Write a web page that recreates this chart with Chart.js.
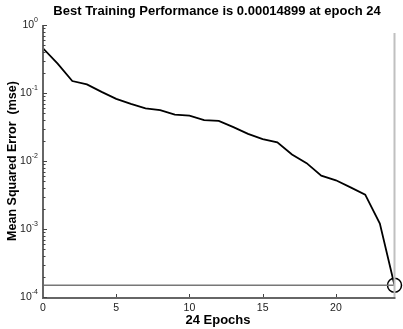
<!DOCTYPE html>
<html>
<head>
<meta charset="utf-8">
<script src="https://cdn.jsdelivr.net/npm/chart.js@4"></script>
<style>
  html, body { margin: 0; padding: 0; background: #fff; }
  #wrap { width: 403px; height: 329px; }
</style>
</head>
<body>
<div id="wrap"><canvas id="perfChart" width="403" height="329"></canvas></div>
<script>
// values
const epochs = [0, 1, 2, 3, 4, 5, 6, 7, 8, 9, 10, 11, 12, 13, 14, 15, 16, 17, 18, 19, 20, 21, 22, 23, 24];
const trainMse = [0.454, 0.27, 0.15, 0.134, 0.104, 0.082, 0.069, 0.0596, 0.056, 0.048, 0.0465, 0.040, 0.039,
    0.0315, 0.025, 0.021, 0.0188, 0.0125, 0.0093, 0.0061, 0.0052, 0.0041, 0.0032, 0.0012, 0.00014899];
const bestEpoch = 24;
const bestMse = 0.00014899;
const xTicks = [0, 5, 10, 15, 20];
const yTicks = [1, 0.1, 0.01, 0.001, 0.0001];
const yExp = ['0', '-1', '-2', '-3', '-4'];

const FONT = '"Liberation Sans", Arial, sans-serif';

const axesPlugin = {
    id: 'matlabAxes',
    afterDraw(chart) {
        const ctx = chart.ctx;
        const xs = chart.scales.x;
        const ys = chart.scales.y;
        const area = chart.chartArea;
        ctx.save();

        // right light border
        ctx.strokeStyle = '#c0c0c0';
        ctx.lineWidth = 2;
        ctx.beginPath();
        ctx.moveTo(area.right, area.top + 8);
        ctx.lineTo(area.right, area.bottom);
        ctx.stroke();

        // left and bottom axes
        ctx.strokeStyle = '#666';
        ctx.lineWidth = 2;
        ctx.beginPath();
        ctx.moveTo(area.left, area.top);
        ctx.lineTo(area.left, area.bottom + 1);
        ctx.lineTo(area.right + 1, area.bottom + 1);
        ctx.stroke();

        // y ticks (major + log minor)
        ctx.lineWidth = 1;
        ctx.strokeStyle = '#444';
        ctx.beginPath();
        for (let d = -4; d <= 0; d++) {
            const yp = Math.round(ys.getPixelForValue(Math.pow(10, d))) + 0.5;
            ctx.moveTo(area.left, yp);
            ctx.lineTo(area.left + 4, yp);
            if (d < 0) {
                for (let m = 2; m <= 9; m++) {
                    const ym = Math.round(ys.getPixelForValue(m * Math.pow(10, d))) + 0.5;
                    ctx.moveTo(area.left, ym);
                    ctx.lineTo(area.left + 2.5, ym);
                }
            }
        }
        // x ticks
        xTicks.forEach(v => {
            if (v === 0) return;
            const xp = Math.round(xs.getPixelForValue(v)) + 0.5;
            ctx.moveTo(xp, area.bottom);
            ctx.lineTo(xp, area.bottom - 3);
        });
        ctx.stroke();

        // x tick labels
        ctx.fillStyle = '#222';
        ctx.font = '10.5px ' + FONT;
        ctx.textAlign = 'center';
        ctx.textBaseline = 'middle';
        xTicks.forEach(v => {
            ctx.fillText(String(v), xs.getPixelForValue(v), area.bottom + 11);
        });

        // y tick labels 10^n
        yTicks.forEach((v, i) => {
            const yp = ys.getPixelForValue(v);
            ctx.font = '7px ' + FONT;
            ctx.textAlign = 'left';
            ctx.textBaseline = 'middle';
            const ew = ctx.measureText(yExp[i]).width;
            const xEnd = area.left - 5;
            ctx.fillText(yExp[i], xEnd - ew, yp - 5);
            ctx.font = '10.5px ' + FONT;
            ctx.textAlign = 'right';
            ctx.fillText('10', xEnd - ew, yp);
        });

        // titles
        ctx.fillStyle = '#000';
        ctx.font = 'bold 13px ' + FONT;
        ctx.textAlign = 'center';
        ctx.textBaseline = 'middle';
        ctx.fillText('Best Training Performance is 0.00014899 at epoch 24', 217, 11);
        ctx.fillText('24 Epochs', 218, 320);
        ctx.translate(13, 161);
        ctx.rotate(-Math.PI / 2);
        ctx.font = 'bold 12.5px ' + FONT;
        ctx.fillText('Mean Squared Error  (mse)', 0, 0);
        ctx.restore();
    }
};

new Chart(document.getElementById('perfChart').getContext('2d'), {
    type: 'line',
    data: {
        datasets: [
            {
                label: 'Best',
                data: [{ x: 0, y: bestMse }, { x: bestEpoch, y: bestMse }],
                borderColor: '#777',
                borderWidth: 1.5,
                pointRadius: 0
            },
            {
                label: 'Train',
                data: epochs.map((e, i) => ({ x: e, y: trainMse[i] })),
                borderColor: '#000',
                borderWidth: 1.8,
                pointRadius: 0,
                tension: 0
            },
            {
                label: 'Goal',
                data: [{ x: bestEpoch, y: bestMse }],
                borderColor: '#000',
                backgroundColor: 'rgba(0,0,0,0)',
                pointRadius: 7,
                pointBorderWidth: 1.5,
                showLine: false,
                clip: false
            }
        ]
    },
    options: {
        responsive: false,
        animation: false,
        layout: { padding: { left: 43, right: 8, top: 25, bottom: 32 } },
        plugins: { legend: { display: false }, tooltip: { enabled: false } },
        scales: {
            x: { type: 'linear', min: 0, max: 24, display: false },
            y: { type: 'logarithmic', min: 0.0001, max: 1, display: false }
        }
    },
    plugins: [axesPlugin]
});
</script>
</body>
</html>
